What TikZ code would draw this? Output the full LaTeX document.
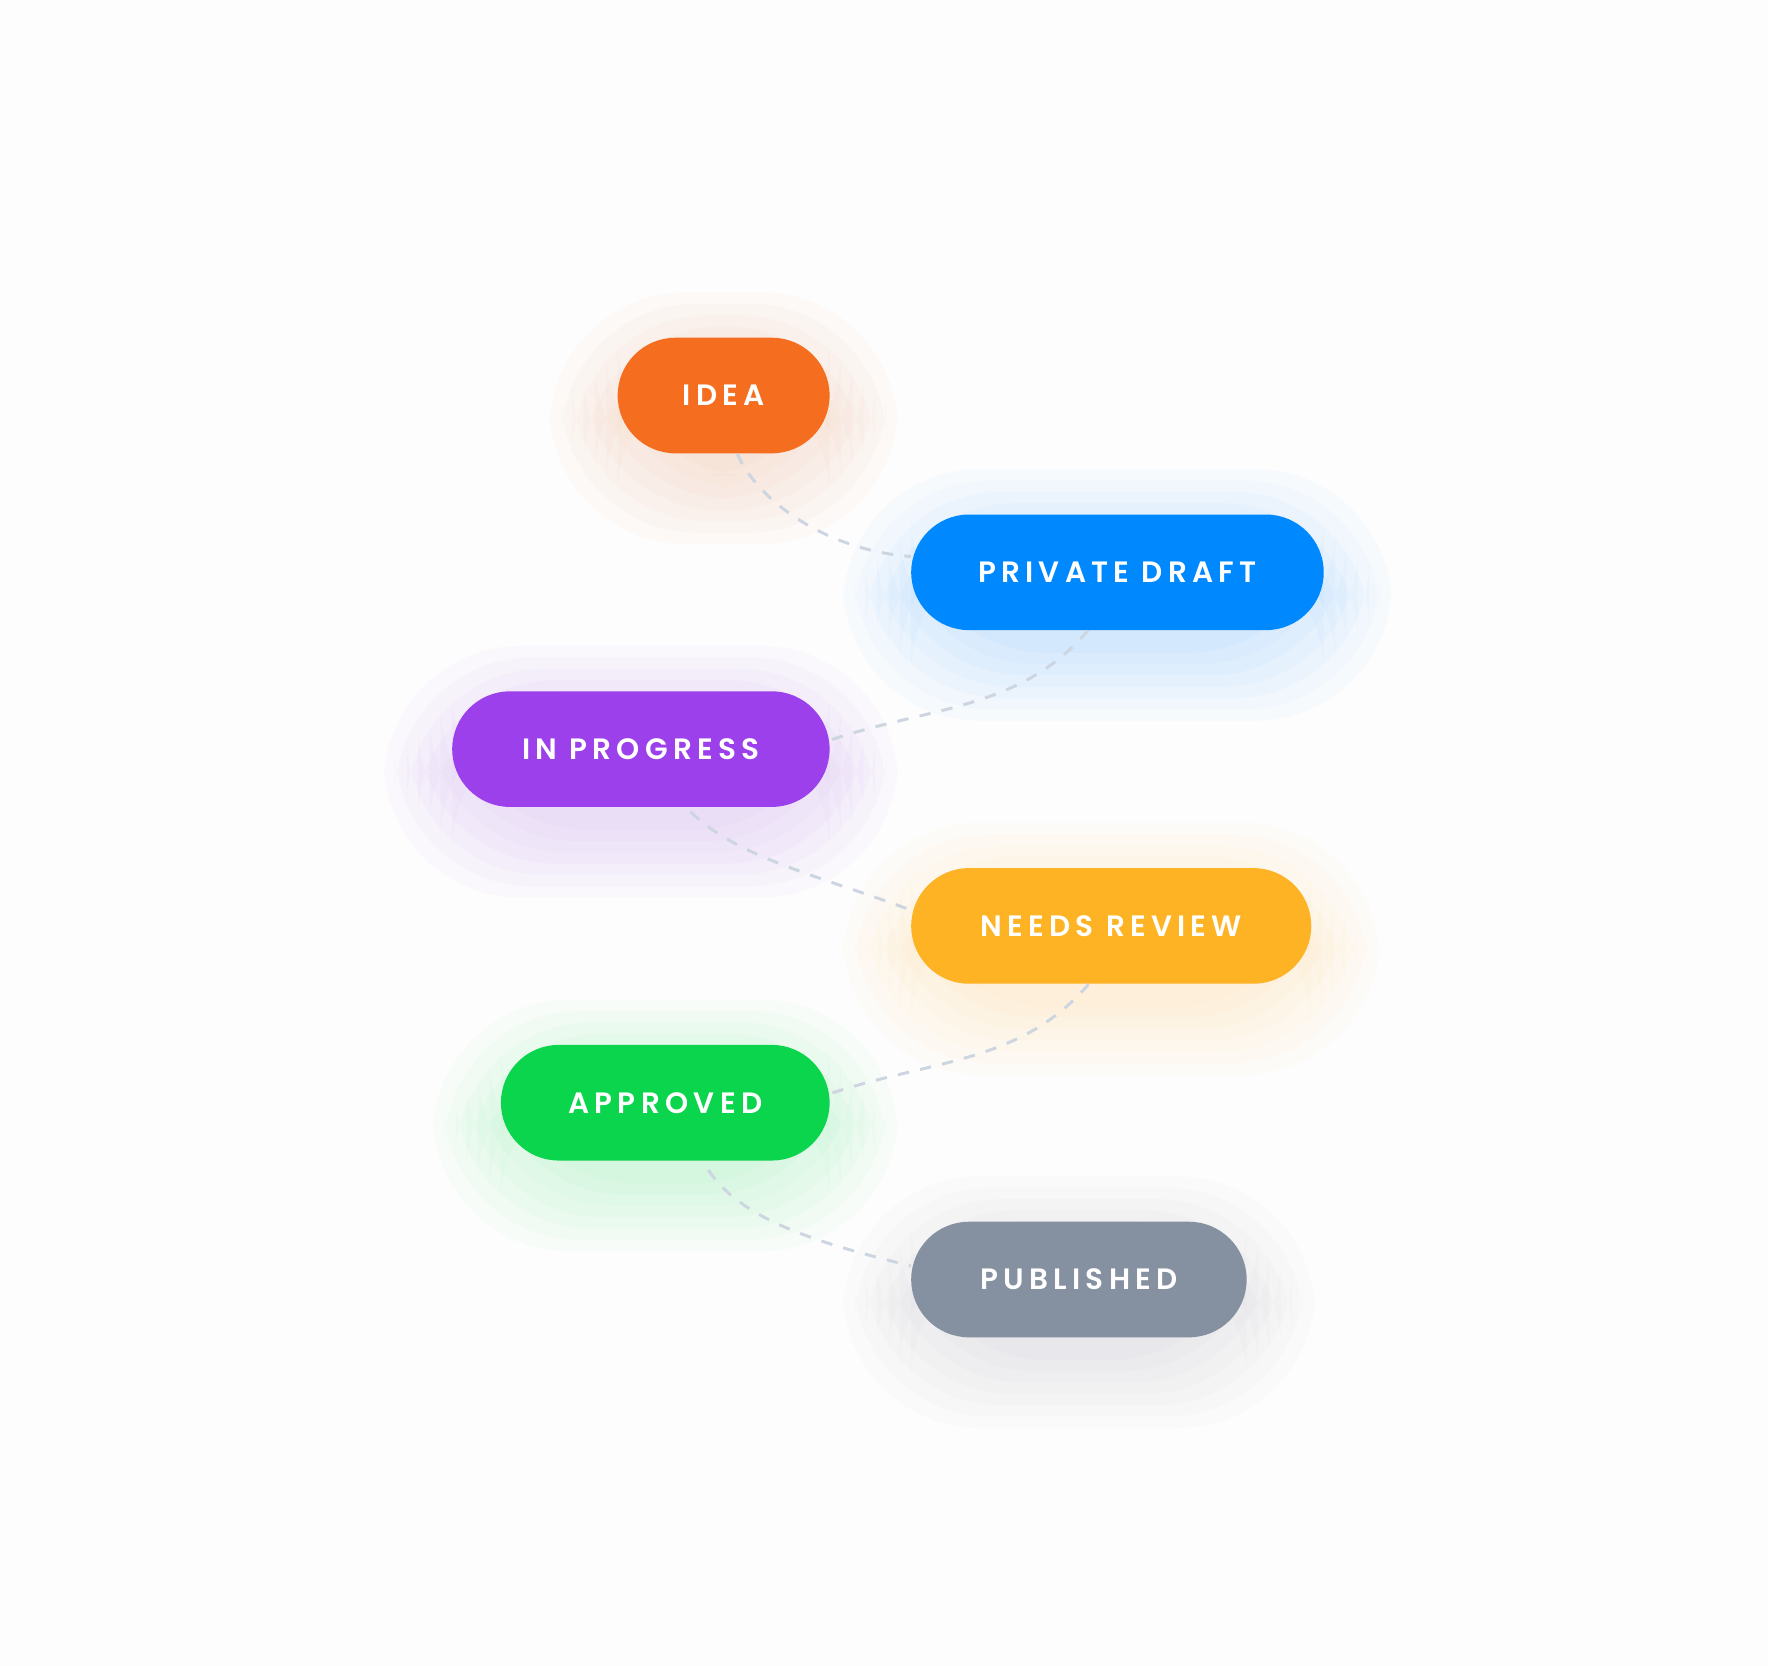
\documentclass[tikz,border=0pt]{standalone}
\usepackage{fontspec}
\setmainfont{Poppins}[UprightFont=* Medium, BoldFont=* SemiBold]
\begin{document}
\begin{tikzpicture}[x=0.5pt,y=-0.5pt,
  pill/.style={rounded corners=25.5pt,minimum height=51pt,inner sep=0pt,text=white,font=\fontsize{13}{13}\selectfont\bfseries\addfontfeatures{LetterSpace=18}},
  conn/.style={draw=lineC,dashed,dash pattern=on 5pt off 5pt,line width=1.3pt}]
\definecolor{cIdea}{HTML}{F56E20}
\definecolor{cDraft}{HTML}{0088FF}
\definecolor{cProg}{HTML}{9B40EA}
\definecolor{cRev}{HTML}{FDB323}
\definecolor{cAppr}{HTML}{0BD44D}
\definecolor{cPub}{HTML}{8591A0}
\definecolor{lineC}{HTML}{CCD5E0}
\fill[white!98!black!40!white] (0,0) rectangle (1560,1470);
\useasboundingbox (0,0) rectangle (1560,1470);
% glows
\foreach \xa/\xb/\ya/\col in {545/732/298/cIdea,804/1168/454/cDraft,399/732/610/cProg,804/1157/766/cRev,442/732/922/cAppr,804/1100/1078/cPub}{
  \foreach \r in {60,50,...,0}{
    \fill[\col,opacity=0.025,rounded corners=60pt] (\xa-\r,\ya+20-\r) rectangle (\xb+\r,\ya+122+\r);
  }
}
\node[pill,fill=cIdea,minimum width=93.5pt] (idea) at (638.5,349) {IDEA};
\node[pill,fill=cDraft,minimum width=182pt] (draft) at (986,505) {PRIVATE DRAFT};
\node[pill,fill=cProg,minimum width=166.5pt] (prog) at (565.5,661) {IN PROGRESS};
\node[pill,fill=cRev,minimum width=176.5pt] (rev) at (980.5,817) {NEEDS REVIEW};
\node[pill,fill=cAppr,minimum width=145pt] (appr) at (587,973) {APPROVED};
\node[pill,fill=cPub,minimum width=148pt] (pub) at (952,1129) {PUBLISHED};
\draw[conn] ([xshift=6pt]idea.south) .. controls +(20,45) and +(-70,-5) .. ([yshift=7pt]draft.west);
\draw[conn] ([xshift=-13pt]draft.south) .. controls +(-60,70) and +(90,-30) .. ([yshift=4pt]prog.east);
\draw[conn] ([xshift=22pt,yshift=-2pt]prog.south) .. controls +(40,40) and +(-80,-30) .. ([yshift=7pt]rev.west);
\draw[conn] ([xshift=-10pt]rev.south) .. controls +(-60,70) and +(90,-30) .. ([yshift=4pt]appr.east);
\draw[conn] ([xshift=19pt,yshift=-4pt]appr.south) .. controls +(30,45) and +(-80,-20) .. ([yshift=6pt]pub.west);
\end{tikzpicture}
\end{document}
